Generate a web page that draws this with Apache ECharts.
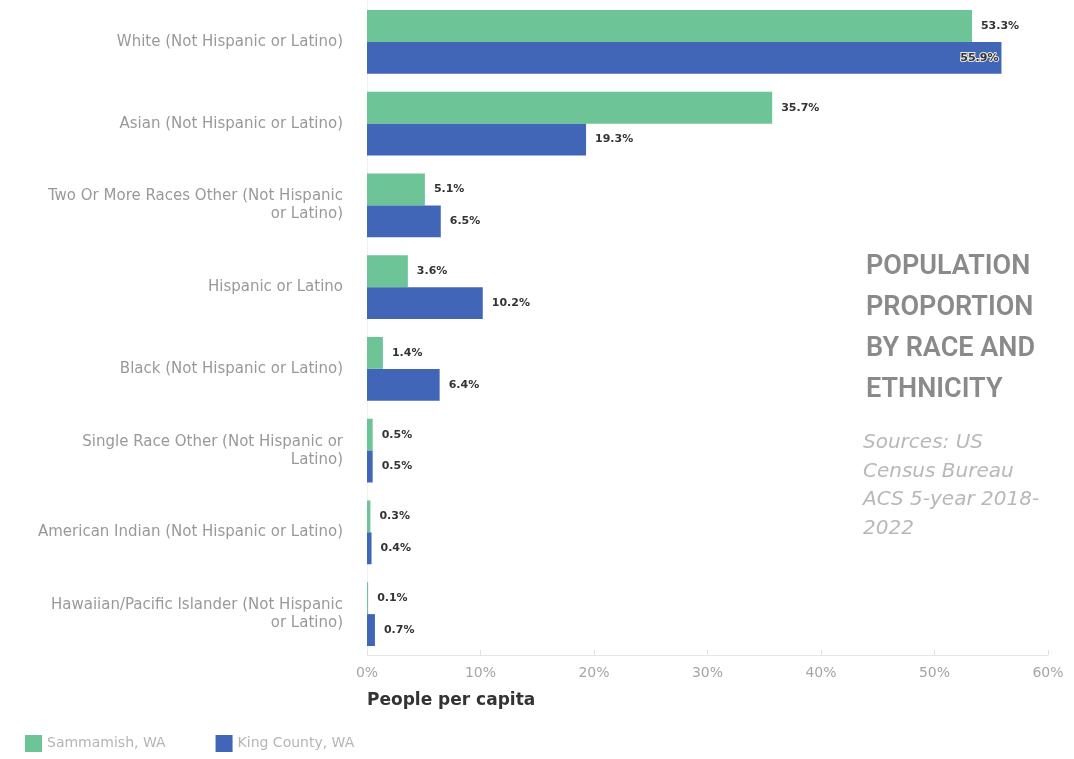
<!DOCTYPE html>
<html><head><meta charset="utf-8">
<script src="https://cdn.jsdelivr.net/npm/echarts@6/dist/echarts.min.js"></script>
<style>html,body{margin:0;padding:0;background:#fff}#c{width:1074px;height:759px}</style>
</head><body><div id="c"></div>
<script>
const categories = [
  "White (Not Hispanic or Latino)",
  "Asian (Not Hispanic or Latino)",
  "Two Or More Races Other (Not Hispanic\nor Latino)",
  "Hispanic or Latino",
  "Black (Not Hispanic or Latino)",
  "Single Race Other (Not Hispanic or\nLatino)",
  "American Indian (Not Hispanic or Latino)",
  "Hawaiian/Pacific Islander (Not Hispanic\nor Latino)"
];
const sammamish = [53.3, 35.7, 5.1, 3.6, 1.4, 0.5, 0.3, 0.1];
const kingCounty = [55.9, 19.3, 6.5, 10.2, 6.4, 0.5, 0.4, 0.7];
const xTicks = [0, 10, 20, 30, 40, 50, 60];

const chart = echarts.init(document.getElementById('c'));
const valLabel = {
  show: true, position: 'right', distance: 9,
  fontFamily: 'DejaVu Sans', fontWeight: 'bold', fontSize: 11, color: '#333',
  formatter: p => p.value.toFixed(1) + '%'
};
chart.setOption({
  animation: false,
  title: [
    { text: 'POPULATION\nPROPORTION\nBY RACE AND\nETHNICITY', left: 861, top: 242,
      textStyle: { fontFamily: 'Roboto', fontWeight: 600, fontSize: 27, lineHeight: 41, color: '#8a8a8a' } },
    { text: 'Sources: US\nCensus Bureau\nACS 5-year 2018-\n2022', left: 858, top: 424,
      textStyle: { fontFamily: 'DejaVu Sans', fontStyle: 'italic', fontWeight: 'normal', fontSize: 20, lineHeight: 28.5, color: '#b8b8b8' } },
    { text: 'People per capita', left: 362, top: 687,
      textStyle: { fontFamily: 'DejaVu Sans', fontWeight: 'bold', fontSize: 17, color: '#333' } }
  ],
  legend: {
    left: 20, bottom: 2, itemWidth: 17, itemHeight: 17, itemGap: 50, icon: 'rect',
    textStyle: { fontFamily: 'DejaVu Sans', fontSize: 14, color: '#b5b5b5' },
    data: ['Sammamish, WA', 'King County, WA']
  },
  grid: { left: 367, right: 26, top: 1, bottom: 104, containLabel: false },
  xAxis: {
    type: 'value', min: 0, max: 60, interval: 10,
    axisLine: { show: true, lineStyle: { color: '#e6e6e6' } },
    axisTick: { show: true, inside: true, length: 5, lineStyle: { color: '#e0e0e0' } },
    splitLine: { show: false },
    axisLabel: { margin: 11, fontFamily: 'DejaVu Sans', fontSize: 14, color: '#a5a5a5',
      formatter: v => xTicks.includes(v) ? v + '%' : '' }
  },
  yAxis: {
    type: 'category', inverse: true, data: categories,
    axisLine: { show: true, lineStyle: { color: '#f0f0f0' } },
    axisTick: { show: false },
    axisLabel: { margin: 24, fontFamily: 'DejaVu Sans', fontSize: 15, lineHeight: 18, color: '#999999', align: 'right' }
  },
  series: [
    { name: 'Sammamish, WA', type: 'bar', data: sammamish, barGap: '0%', barCategoryGap: '22%',
      itemStyle: { color: '#6cc497' }, label: valLabel },
    { name: 'King County, WA', type: 'bar',
      data: kingCounty.map((v, i) => i === 0 ? { value: v, label: { position: 'insideRight', distance: 3, textBorderColor: '#e8e8e8', textBorderWidth: 2 } } : v),
      itemStyle: { color: '#4166b8' }, label: valLabel }
  ]
});
</script></body></html>
